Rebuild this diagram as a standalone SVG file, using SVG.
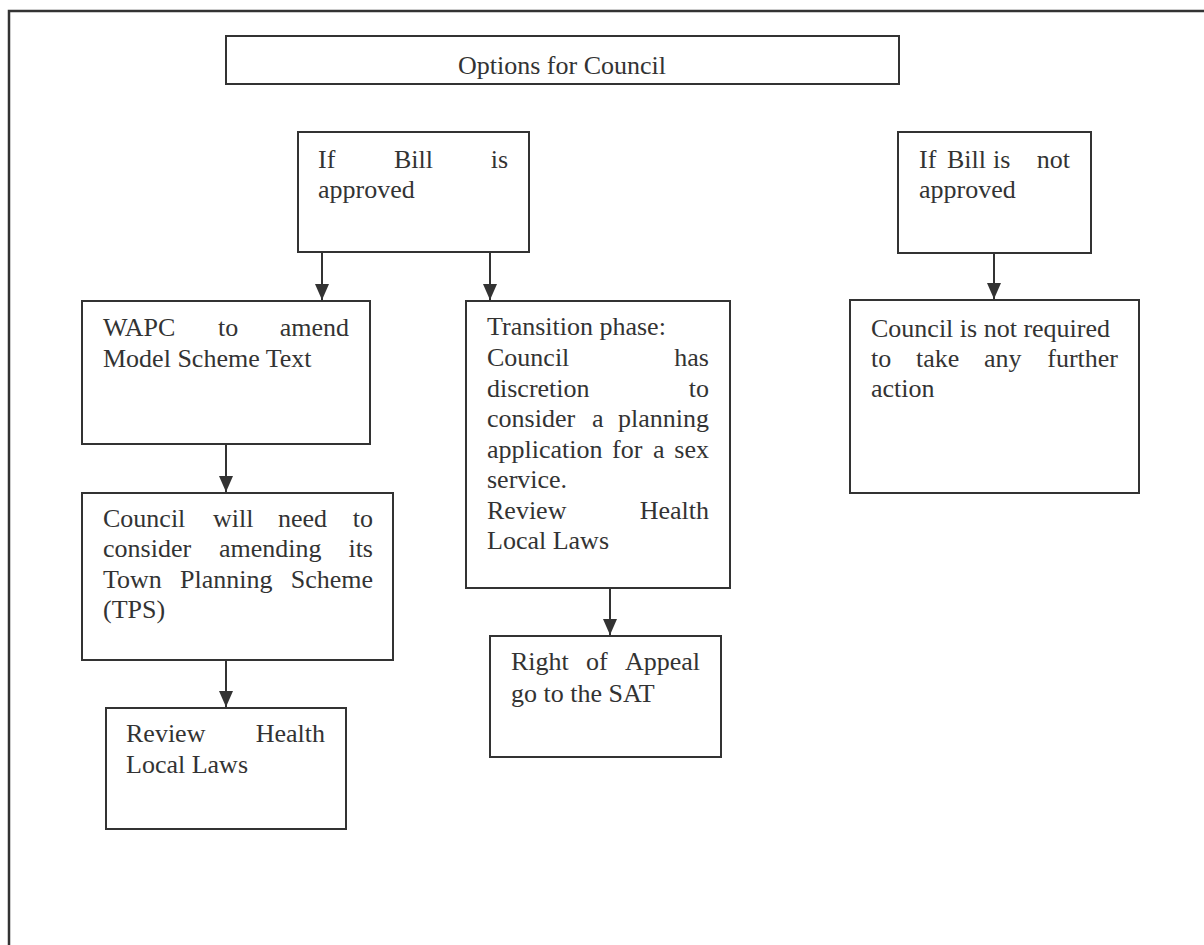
<svg xmlns="http://www.w3.org/2000/svg" width="1204" height="945" viewBox="0 0 1204 945">
<style>
.box{fill:#fff;stroke:#333;stroke-width:2}
.frame{stroke:#333;stroke-width:2.5;fill:none}
text{font-family:"Liberation Serif","Times New Roman",serif;font-size:26px;fill:#333}
.e{text-anchor:end}
.conn{stroke:#333;stroke-width:2;fill:none}
</style>
<defs>
<marker id="ah" markerUnits="userSpaceOnUse" markerWidth="16" markerHeight="14" refX="16" refY="7" orient="auto" viewBox="0 0 16 14">
<path d="M0,0 L16,7 L0,14 Z" fill="#333"/>
</marker>
</defs>
<rect width="1204" height="945" fill="#fff"/>
<path class="frame" d="M9,945 L9,11 L1204,11"/>

<g id="title">
<rect class="box" x="226" y="36" width="673" height="48"/>
<text x="562" y="74" text-anchor="middle">Options for Council</text>
</g>

<g id="bill-approved">
<rect class="box" x="298" y="132" width="231" height="120"/>
<text x="318" y="168">If</text><text x="394" y="168">Bill</text><text class="e" x="508" y="168">is</text>
<text x="318" y="198">approved</text>
</g>

<g id="bill-not-approved">
<rect class="box" x="898" y="132" width="193" height="121"/>
<text x="919" y="168">If</text><text x="947" y="168">Bill</text><text x="993" y="168">is</text><text class="e" x="1070" y="168">not</text>
<text x="919" y="198">approved</text>
</g>

<g id="not-required">
<rect class="box" x="850" y="300" width="289" height="193"/>
<text x="871" y="337">Council is not required</text>
<text x="871" y="367">to</text><text x="916" y="367">take</text><text x="984" y="367">any</text><text class="e" x="1118" y="367">further</text>
<text x="871" y="397">action</text>
</g>

<g id="wapc">
<rect class="box" x="82" y="301" width="288" height="143"/>
<text x="103" y="336">WAPC</text><text x="218" y="336">to</text><text class="e" x="349" y="336">amend</text>
<text x="103" y="367">Model Scheme Text</text>
</g>

<g id="council-tps">
<rect class="box" x="82" y="493" width="311" height="167"/>
<text x="103" y="527">Council</text><text x="213" y="527">will</text><text x="278" y="527">need</text><text class="e" x="373" y="527">to</text>
<text x="103" y="557">consider</text><text x="219" y="557">amending</text><text class="e" x="373" y="557">its</text>
<text x="103" y="588">Town</text><text x="180" y="588">Planning</text><text class="e" x="373" y="588">Scheme</text>
<text x="103" y="618">(TPS)</text>
</g>

<g id="review-1">
<rect class="box" x="106" y="708" width="240" height="121"/>
<text x="126" y="742">Review</text><text class="e" x="325" y="742">Health</text>
<text x="126" y="773">Local Laws</text>
</g>

<g id="transition">
<rect class="box" x="466" y="301" width="264" height="287"/>
<text x="487" y="335">Transition phase:</text>
<text x="487" y="366">Council</text><text class="e" x="709" y="366">has</text>
<text x="487" y="397">discretion</text><text class="e" x="709" y="397">to</text>
<text x="487" y="427">consider</text><text x="592" y="427">a</text><text class="e" x="709" y="427">planning</text>
<text x="487" y="458">application</text><text x="612" y="458">for</text><text x="653" y="458">a</text><text class="e" x="709" y="458">sex</text>
<text x="487" y="488">service.</text>
<text x="487" y="519">Review</text><text class="e" x="709" y="519">Health</text>
<text x="487" y="549">Local Laws</text>
</g>

<g id="appeal">
<rect class="box" x="490" y="636" width="231" height="121"/>
<text x="511" y="670">Right</text><text x="586" y="670">of</text><text class="e" x="700" y="670">Appeal</text>
<text x="511" y="702">go to the SAT</text>
</g>

<g id="connectors">
<line class="conn" x1="322" y1="252" x2="322" y2="300" marker-end="url(#ah)"/>
<line class="conn" x1="490" y1="252" x2="490" y2="300" marker-end="url(#ah)"/>
<line class="conn" x1="994" y1="253" x2="994" y2="299" marker-end="url(#ah)"/>
<line class="conn" x1="226" y1="444" x2="226" y2="492" marker-end="url(#ah)"/>
<line class="conn" x1="226" y1="660" x2="226" y2="707" marker-end="url(#ah)"/>
<line class="conn" x1="610" y1="588" x2="610" y2="635" marker-end="url(#ah)"/>
</g>
</svg>
